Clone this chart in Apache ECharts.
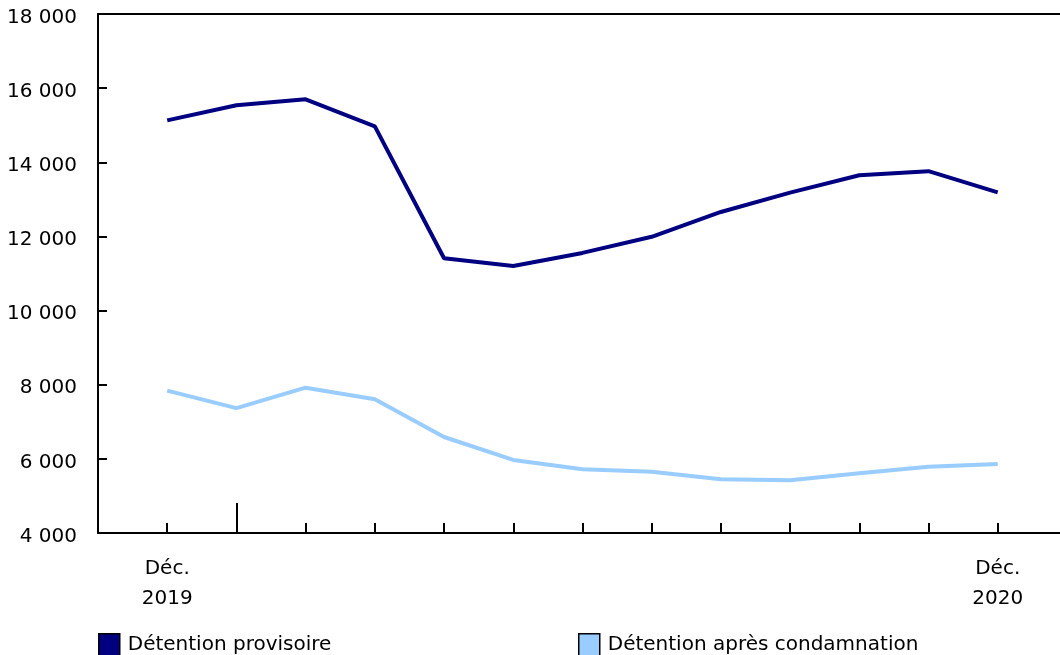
<!DOCTYPE html>
<html>
<head>
<meta charset="utf-8">
<script src="https://cdn.jsdelivr.net/npm/echarts@6/dist/echarts.min.js"></script>
<style>
  html, body { margin: 0; padding: 0; background: #fff; }
  #mychart { width: 1060px; height: 655px; }
</style>
</head>
<body>
<div id="mychart"></div>
<script>
// months from Dec 2019 to Dec 2020
let months = ['Déc. 2019', 'Janv.', 'Févr.', 'Mars', 'Avr.', 'Mai', 'Juin',
    'Juill.', 'Août', 'Sept.', 'Oct.', 'Nov.', 'Déc. 2020']
let provisoire = [15130, 15540, 15700, 14970, 11410, 11200, 11555, 11990, 12660, 13180, 13650, 13760, 13190]
let condamnation = [7840, 7370, 7920, 7610, 6590, 5970, 5720, 5650, 5450, 5420, 5610, 5790, 5860]
let xTickLabels = ['Déc.\n2019', 'Déc.\n2020']
let xLabelAt = [0, 12]
let yTicks = [4000, 6000, 8000, 10000, 12000, 14000, 16000, 18000]

let seriesNames = ['Détention provisoire', 'Détention après condamnation']
let colors = ['#000080', '#99ccff']

function toPairs(arr) {
    return arr.map((v, i) => [i, v])
}

function fmt(v) {
    return String(v).replace(/\B(?=(\d{3})+(?!\d))/g, ' ')
}

let font = 'DejaVu Sans'
let fs = 20
let myChart = echarts.init(document.getElementById('mychart'))

function legendAt(name, x) {
    return {
        data: [name],
        left: x, top: 633, padding: 0,
        icon: 'rect', itemWidth: 21, itemHeight: 22, itemGap: 0,
        itemStyle: { borderColor: '#000', borderWidth: 1.5 },
        textStyle: { fontFamily: font, fontSize: fs, color: '#000', padding: [0, 0, 0, 3] }
    }
}

let option = {
    animation: false,
    textStyle: { fontFamily: font },
    grid: { left: 98, right: 0, top: 14, bottom: 122 },
    legend: [legendAt(seriesNames[0], 98), legendAt(seriesNames[1], 578)],
    xAxis: [
        {
            type: 'value', min: -1, max: 12.9, position: 'bottom',
            axisLine: { onZero: false, lineStyle: { color: '#000', width: 2 } },
            axisTick: {
                inside: true, length: 10,
                customValues: months.map((m, i) => i),
                lineStyle: { color: '#000', width: 2 }
            },
            axisLabel: {
                customValues: xLabelAt,
                formatter: v => xTickLabels[xLabelAt.indexOf(v)] || '',
                color: '#000', fontSize: fs, lineHeight: 30, margin: 21, fontFamily: font
            },
            splitLine: { show: false }
        },
        {
            // year boundary tick
            type: 'value', min: -1, max: 12.9, position: 'bottom',
            axisLine: { show: false, onZero: false },
            axisTick: {
                inside: true, length: 30, customValues: [1],
                lineStyle: { color: '#000', width: 2 }
            },
            axisLabel: { show: false },
            splitLine: { show: false }
        },
        {
            type: 'value', min: -1, max: 12.9, position: 'top',
            axisLine: { onZero: false, lineStyle: { color: '#000', width: 2 } },
            axisTick: { show: false },
            axisLabel: { show: false },
            splitLine: { show: false }
        }
    ],
    yAxis: {
        type: 'value', min: 4000, max: 18000, interval: 2000,
        axisLine: { show: true, onZero: false, lineStyle: { color: '#000', width: 2 } },
        axisTick: { show: true, inside: true, length: 9, lineStyle: { color: '#000', width: 2 } },
        axisLabel: {
            customValues: yTicks,
            formatter: v => fmt(v),
            color: '#000', fontSize: fs, margin: 21, fontFamily: font,
            verticalAlign: 'top', lineHeight: 7
        },
        splitLine: { show: false }
    },
    series: [
        {
            name: seriesNames[0], type: 'line', data: toPairs(provisoire),
            showSymbol: false, color: colors[0],
            lineStyle: { width: 4, color: colors[0] }
        },
        {
            name: seriesNames[1], type: 'line', data: toPairs(condamnation),
            showSymbol: false, color: colors[1],
            lineStyle: { width: 4, color: colors[1] }
        }
    ]
}
myChart.setOption(option)
</script>
</body>
</html>
